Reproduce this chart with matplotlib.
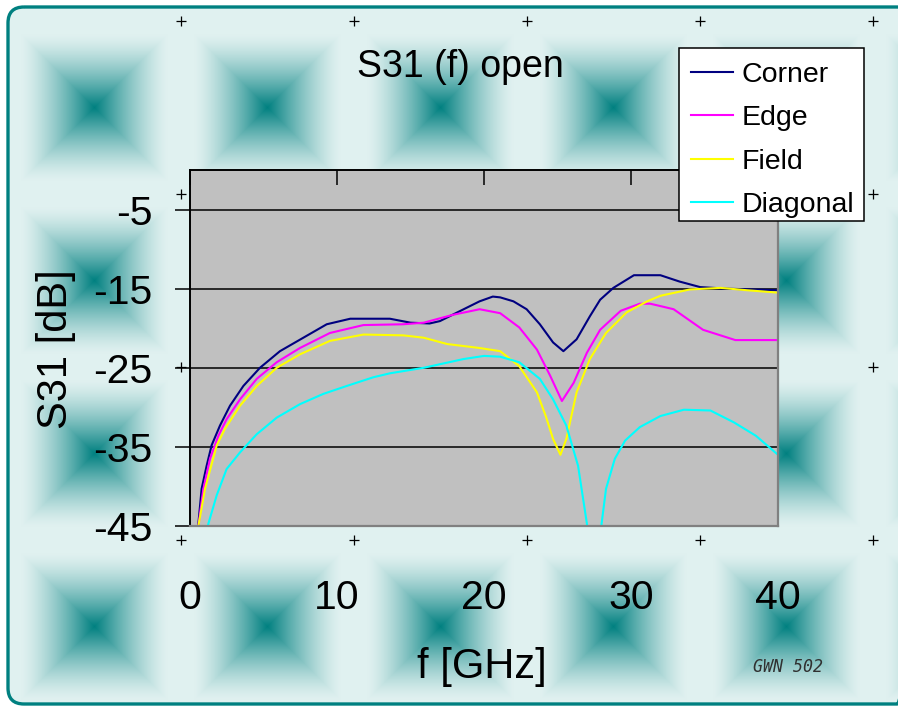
import numpy as np
import matplotlib
matplotlib.use("Agg")
import matplotlib.pyplot as plt
from matplotlib.patches import FancyBboxPatch, Rectangle

plt.rcParams['font.family'] = ['Liberation Sans', 'DejaVu Sans']
plt.rcParams['axes.unicode_minus'] = False

# --- data (frequency in GHz, S31 in dB) ---
corner_f = [0.4, 0.57, 0.79, 1.13, 1.47, 2.04, 2.72, 3.63, 4.76, 6.12, 7.71, 9.3,
            10.9, 13.6, 15.0, 16.3, 17.0, 18.4, 19.7, 20.6, 21.1, 22.0, 22.9, 23.8,
            24.7, 25.4, 26.3, 27.2, 27.9, 28.8, 30.2, 32.0, 33.3, 34.7, 36.5, 40.0]
corner_db = [-48, -44.7, -40.3, -37.4, -34.8, -32.3, -29.8, -27.3, -25.0, -22.9, -21.2, -19.5,
             -18.8, -18.8, -19.3, -19.4, -19.1, -17.8, -16.6, -16.0, -16.1, -16.6, -17.6, -19.5,
             -21.8, -22.9, -21.4, -18.5, -16.4, -14.9, -13.3, -13.3, -14.1, -14.8, -15.0, -15.2]

edge_f = [0.4, 0.57, 0.91, 1.36, 1.93, 2.49, 3.4, 4.54, 5.9, 7.48, 9.52, 11.8,
          14.5, 15.9, 17.9, 19.7, 21.1, 22.4, 23.6, 24.5, 25.3, 26.1, 27.0, 27.9,
          29.3, 30.6, 31.3, 32.0, 32.9, 34.9, 37.1, 40.0]
edge_db = [-48, -45, -40.3, -36.5, -33.6, -31.5, -29.0, -26.4, -24.3, -22.5, -20.6, -19.6,
           -19.5, -19.3, -18.3, -17.6, -18.1, -19.9, -22.7, -26.0, -29.2, -26.9, -23.1, -20.2,
           -17.8, -16.9, -16.9, -17.2, -17.6, -20.2, -21.5, -21.5]

field_f = [0.4, 0.57, 1.02, 1.82, 2.38, 3.4, 4.54, 5.9, 7.48, 9.52, 11.8, 14.5,
           15.9, 17.5, 19.7, 21.1, 22.4, 23.6, 24.2, 24.7, 25.2, 25.6, 26.3, 27.2,
           28.3, 29.7, 31.1, 32.0, 34.0, 36.1, 37.9, 40.0]
field_db = [-48, -45, -40.3, -34.8, -32.7, -29.8, -27.3, -25.0, -23.3, -21.6, -20.8, -20.9,
            -21.2, -22.0, -22.5, -22.9, -24.8, -28.1, -31.1, -34.0, -36.0, -34.0, -28.1, -23.9,
            -20.6, -18.0, -16.6, -15.9, -15.1, -14.9, -15.2, -15.5]

diag_f = [1.0, 1.25, 1.82, 2.49, 3.4, 4.54, 5.9, 7.48, 9.07, 10.66, 12.47, 13.6,
          15.9, 18.6, 20.0, 21.1, 22.4, 23.8, 24.7, 25.6, 26.4, 27.0, 27.5, 28.0,
          28.3, 28.9, 29.6, 30.6, 32.0, 33.6, 35.4, 37.0, 38.5, 40.0]
diag_db = [-48, -44.7, -41.1, -37.8, -35.7, -33.4, -31.3, -29.6, -28.3, -27.3, -26.2, -25.7,
           -25.0, -23.9, -23.5, -23.6, -24.3, -26.4, -29.0, -32.3, -37.4, -44.7, -60, -44.7,
           -40.3, -36.5, -34.2, -32.5, -31.1, -30.3, -30.4, -31.9, -33.6, -36.0]

series_names = ['Corner', 'Edge', 'Field', 'Diagonal']
series_colors = ['#000080', '#FF00FF', '#FFFF00', '#00FFFF']

x_ticks = [0, 10, 20, 30, 40]
y_ticks = [-5, -15, -25, -35, -45]

W, H = 898, 707
fig = plt.figure(figsize=(W / 100, H / 100), dpi=100)
fig.patch.set_facecolor('white')

# background: tiled square gradient inside a rounded teal frame
bg = fig.add_axes([0, 0, 1, 1], zorder=-5)
bg.set_xlim(0, W)
bg.set_ylim(H, 0)
bg.axis('off')
yy, xx = np.mgrid[0:H, 0:W] + 0.5
tile = 173.0
dx = np.abs(((xx - 8) % tile) - tile / 2) / (tile / 2)
dy = np.abs(((yy - 21) % tile) - tile / 2) / (tile / 2)
r = np.maximum(dx, dy)
wgt = (1 - np.clip(r / 0.85, 0, 1)) ** 1.4
light = np.array([224, 241, 240]) / 255.0
dark = np.array([0, 128, 128]) / 255.0
img = light + (dark - light) * wgt[..., None]
im = bg.imshow(img, extent=(0, W, H, 0), interpolation='nearest')
frame = FancyBboxPatch((8, 7), 905, 697, boxstyle='round,pad=0,rounding_size=16',
                       fc='none', ec='#008080', lw=2.4)
bg.add_patch(frame)
im.set_clip_path(frame)
cx = [181, 354, 527, 700, 873]
cy = [21, 194, 367, 540]
gx, gy = np.meshgrid(cx, cy)
bg.plot(gx.ravel(), gy.ravel(), ls='none', marker='+', ms=7, mew=0.9, color='black')

# plot area
ax = fig.add_axes([190 / W, 1 - 526 / H, 588 / W, 356 / H])
ax.set_facecolor('#C0C0C0')
for name, f, db, col in zip(series_names,
                            [corner_f, edge_f, field_f, diag_f],
                            [corner_db, edge_db, field_db, diag_db],
                            series_colors):
    ax.plot(f, db, color=col, lw=1.5, label=name)

ax.set_xlim(0, 40)
ax.set_ylim(-45, 0)
ax.set_xticks(x_ticks)
ax.set_yticks(y_ticks)
ax.set_axisbelow(True)
ax.yaxis.grid(True, color='black', lw=1.1)
ax.tick_params(axis='x', bottom=False, top=True, direction='in', length=10.8,
               width=1.1, labelsize=29.5, pad=38)
ax.tick_params(axis='y', left=True, direction='out', length=10.8, width=1.1,
               labelsize=29.5, pad=16)
for s in ['left', 'top']:
    ax.spines[s].set_color('black')
    ax.spines[s].set_linewidth(1.4)
for s in ['right', 'bottom']:
    ax.spines[s].set_color('#808080')
    ax.spines[s].set_linewidth(1.6)

ax.set_xlabel('f [GHz]', fontsize=30, va='center')
ax.xaxis.set_label_coords(0.497, -0.396)
ax.set_ylabel('S31 [dB]', fontsize=30, va='center')
ax.yaxis.set_label_coords(-0.228, 0.497)

fig.text(460 / W, 1 - 77 / H, 'S31 (f) open', ha='center', va='baseline', fontsize=27)
fig.text(788 / W, 1 - 667 / H, 'GWN 502', ha='center', va='center', fontsize=12,
         family='DejaVu Sans Mono', style='oblique', color='#303030')

# legend: white box drawn separately so its padding matches the original
box = Rectangle((679 / W, 1 - 221 / H), 185 / W, 173 / H, transform=fig.transFigure,
                fc='white', ec='black', lw=1.1, clip_on=False, zorder=4.9)
ax.add_patch(box)
leg = ax.legend(loc='upper left', bbox_to_anchor=(679 / W, 1 - 50 / H),
                bbox_transform=fig.transFigure, fontsize=20.5, frameon=False,
                handlelength=1.47, handletextpad=0.32, labelspacing=0.61,
                borderpad=0.42, borderaxespad=0)
leg.set_zorder(5)
for ln in leg.get_lines():
    ln.set_linewidth(1.5)

fig.savefig('out.png', dpi=100)
